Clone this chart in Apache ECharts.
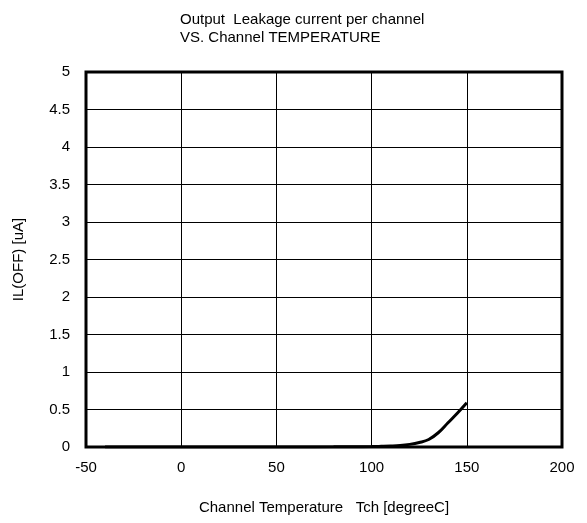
<!DOCTYPE html>
<html>
<head>
<meta charset="utf-8">
<script src="https://cdn.jsdelivr.net/npm/echarts@6/dist/echarts.min.js"></script>
<style>
  html, body { margin: 0; padding: 0; background: #fff; }
  #chart { width: 587px; height: 523px; }
</style>
</head>
<body>
<div id="chart"></div>
<script>
// ---------------------- Data ----------------------
let temp_data = [-40, -20, 0, 20, 40, 60, 80, 90, 100, 105, 110, 115, 120, 125, 130, 135, 140, 145, 150];
let leak_data = [0, 0, 0, 0, 0, 0, 0.002, 0.004, 0.006, 0.009, 0.013, 0.02, 0.035, 0.06, 0.1, 0.19, 0.32, 0.45, 0.59];
let title_lines = ["Output  Leakage current per channel", "VS. Channel TEMPERATURE"];

let chart_dom = document.getElementById("chart");
let chart = echarts.init(chart_dom);
let font_family = "Liberation Sans, Arial, sans-serif";

let series_points = temp_data.map(function (t, i) { return [t, leak_data[i]]; });

let option = {
    backgroundColor: "#fff",
    animation: false,
    title: {
        text: title_lines.join("\n"),
        left: 175,
        top: 6,
        textStyle: { fontFamily: font_family, fontSize: 15, fontWeight: "normal", color: "#000", lineHeight: 18 }
    },
    grid: { left: 86, right: 25, top: 72, bottom: 76, containLabel: false, outerBoundsMode: "none" },
    xAxis: {
        type: "value",
        min: -50, max: 200, interval: 50,
        name: "Channel Temperature   Tch [degreeC]",
        nameLocation: "middle",
        nameGap: 53,
        nameTextStyle: { fontFamily: font_family, fontSize: 15, color: "#000" },
        axisLine: { show: false },
        axisTick: { show: false },
        axisLabel: { fontFamily: font_family, fontSize: 15, color: "#000", margin: 13 },
        splitLine: { show: true, lineStyle: { color: "#000", width: 1 } }
    },
    yAxis: {
        type: "value",
        min: 0, max: 5, interval: 0.5,
        name: "IL(OFF) [uA]",
        nameLocation: "middle",
        nameGap: 60,
        nameRotate: 90,
        nameTextStyle: { fontFamily: font_family, fontSize: 15, color: "#000" },
        axisLine: { show: false },
        axisTick: { show: false },
        axisLabel: { fontFamily: font_family, fontSize: 15, color: "#000", margin: 16 },
        splitLine: { show: true, lineStyle: { color: "#000", width: 1 } }
    },
    series: [
        {
            type: "line",
            data: series_points,
            smooth: 0.4,
            showSymbol: false,
            lineStyle: { color: "#000", width: 3 },
            z: 5
        }
    ],
    graphic: [
        {
            type: "rect",
            shape: { x: 86, y: 72, width: 476, height: 375 },
            style: { fill: "none", stroke: "#000", lineWidth: 3 },
            z: 10
        }
    ]
};
chart.setOption(option);
</script>
</body>
</html>
